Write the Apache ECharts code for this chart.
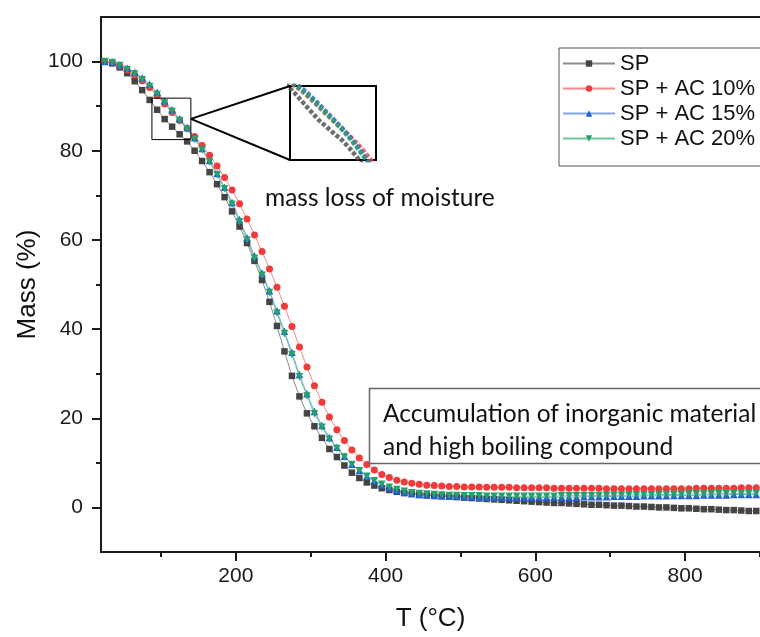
<!DOCTYPE html>
<html>
<head>
<meta charset="utf-8">
<script src="https://cdn.jsdelivr.net/npm/echarts@6/dist/echarts.min.js"></script>
<style>
html,body{margin:0;padding:0;background:#fff;}
#main{width:760px;height:637px;}
</style>
</head>
<body>
<div id="main"></div>
<script>
// temperature (°C) of each sampled point
var temps = [
  25,35,45,55,65,75,85,95,105,115,
  125,135,145,155,165,175,185,195,205,215,
  225,235,245,255,265,275,285,295,305,315,
  325,335,345,355,365,375,385,395,405,415,
  425,435,445,455,465,475,485,495,505,515,
  525,535,545,555,565,575,585,595,605,615,
  625,635,645,655,665,675,685,695,705,715,
  725,735,745,755,765,775,785,795,805,815,
  825,835,845,855,865,875,885,895
];
// mass (%)
var massSP = [
  100.0,99.6,98.7,97.4,95.6,93.6,91.4,89.2,87.1,85.4,
  83.7,82.1,80.0,77.7,75.2,72.5,69.6,66.4,63.0,59.3,
  55.3,51.0,46.1,40.7,35.0,29.5,24.9,21.1,18.2,15.6,
  13.1,11.3,9.4,7.8,6.6,5.6,4.9,4.3,3.9,3.5,
  3.2,3.0,2.8,2.7,2.6,2.5,2.4,2.3,2.2,2.1,
  2.0,1.9,1.8,1.7,1.6,1.5,1.4,1.3,1.2,1.1,
  1.0,1.0,0.9,0.8,0.7,0.6,0.6,0.5,0.4,0.4,
  0.3,0.2,0.2,0.1,0.0,0.0,-0.1,-0.2,-0.2,-0.3,
  -0.4,-0.4,-0.5,-0.6,-0.6,-0.7,-0.8,-0.8
];
var massAC10 = [
  100.0,99.7,99.0,98.1,97.0,95.7,94.2,92.4,90.5,88.6,
  86.8,85.0,83.2,81.2,79.0,76.6,74.0,71.2,68.1,64.7,
  61.1,57.4,53.5,49.4,45.1,40.6,36.0,31.5,27.3,23.6,
  20.3,17.4,15.0,12.9,11.1,9.6,8.4,7.4,6.7,6.1,
  5.7,5.4,5.2,5.0,4.9,4.8,4.7,4.7,4.6,4.6,
  4.6,4.5,4.5,4.5,4.5,4.4,4.4,4.4,4.4,4.4,
  4.3,4.3,4.3,4.3,4.3,4.3,4.3,4.2,4.2,4.2,
  4.2,4.2,4.2,4.2,4.2,4.2,4.2,4.2,4.2,4.3,
  4.3,4.3,4.3,4.3,4.3,4.4,4.4,4.4
];
var massAC15 = [
  100.0,99.9,99.3,98.5,97.6,96.4,94.9,93.1,91.2,89.2,
  87.2,85.2,82.9,80.5,77.8,74.9,71.8,68.4,64.6,60.5,
  56.4,52.6,48.6,44.1,39.5,34.8,29.8,25.5,21.5,18.4,
  15.7,13.5,11.5,9.7,8.3,7.0,6.0,5.1,4.4,3.8,
  3.4,3.1,2.9,2.8,2.7,2.6,2.5,2.5,2.4,2.4,
  2.3,2.3,2.3,2.3,2.2,2.2,2.2,2.2,2.2,2.2,
  2.3,2.3,2.3,2.3,2.4,2.4,2.4,2.4,2.5,2.5,
  2.5,2.5,2.6,2.6,2.6,2.6,2.7,2.7,2.7,2.7,
  2.8,2.8,2.8,2.8,2.9,2.9,2.9,2.9
];
var massAC20 = [
  100.0,99.8,99.1,98.2,97.2,95.9,94.4,92.6,90.7,88.8,
  86.8,84.8,82.6,80.2,77.5,74.6,71.5,68.0,64.1,60.0,
  55.9,52.1,48.2,43.6,39.0,34.3,29.3,25.0,21.0,18.0,
  15.3,13.2,11.3,9.6,8.2,7.0,6.0,5.2,4.5,4.0,
  3.6,3.3,3.1,3.0,2.9,2.8,2.7,2.7,2.6,2.6,
  2.6,2.5,2.5,2.5,2.5,2.5,2.5,2.5,2.5,2.5,
  2.5,2.6,2.6,2.6,2.6,2.6,2.7,2.7,2.7,2.7,
  2.8,2.8,2.8,2.8,2.9,2.9,2.9,2.9,3.0,3.0,
  3.0,3.0,3.1,3.1,3.1,3.1,3.2,3.2
];
var seriesNames = ['SP', 'SP + AC 10%', 'SP + AC 15%', 'SP + AC 20%'];

var xMajorTicks = [200, 400, 600, 800];
var xMinorTicks = [100, 300, 500, 700, 900];
var yMajorTicks = [0, 20, 40, 60, 80, 100];
var yMinorTicks = [10, 30, 50, 70, 90];

// region marked by the small box, and what the inset shows
var boxT = [88, 140], boxM = [82.5, 91.8];
var insetT = [66, 180], insetM = [77, 96];

var FONT = 'Liberation Sans';
var AXIS = '#1a1a1a';

function pairs(ys) {
  var out = [];
  for (var i = 0; i < temps.length; i++) out.push([temps[i], ys[i]]);
  return out;
}

var styles = [
  {data: massSP,   symbol: 'rect',     size: 6.5, mark: '#444444', line: '#8c8c8c', inset: '#555555'},
  {data: massAC10, symbol: 'circle',   size: 7,   mark: '#f23a3a', line: '#f28a8a', inset: '#f04545'},
  {data: massAC15, symbol: 'triangle', size: 7.5, mark: '#1f5fd8', line: '#7fa6ee', inset: '#2a66d8'},
  {data: massAC20, symbol: 'path://M0,0 L10,0 L5,9 Z', size: 7.5, mark: '#26a06c', line: '#6cc79c', inset: '#2aa06e'}
];

var series = [];
styles.forEach(function (s, i) {
  series.push({
    name: seriesNames[i], type: 'line', xAxisIndex: 0, yAxisIndex: 0,
    data: pairs(s.data), symbol: s.symbol, symbolSize: s.size,
    showAllSymbol: true, animation: false,
    itemStyle: {color: s.mark},
    lineStyle: {color: s.line, width: 1}
  });
});
// magnified copy drawn inside the inset frame
styles.forEach(function (s, i) {
  series.push({
    name: seriesNames[i], type: 'line', xAxisIndex: 3, yAxisIndex: 2,
    data: pairs(s.data), showSymbol: false, animation: false, clip: true,
    lineStyle: {color: s.inset, width: 4.5, type: [4, 2], opacity: 0.85}
  });
});

var option = {
  backgroundColor: '#fff',
  animation: false,
  grid: [
    {left: 101, top: 17, right: 0, bottom: 83},
    {left: 290, top: 86, width: 86, height: 74, show: true, borderColor: '#000', borderWidth: 2}
  ],
  legend: {
    data: seriesNames, orient: 'vertical', left: 559, top: 48,
    itemWidth: 52, itemHeight: 8, itemGap: 0, padding: [3, 10, 15, 3],
    borderColor: '#555', borderWidth: 1, backgroundColor: '#fff',
    textStyle: {fontFamily: FONT, fontSize: 22, color: '#111', lineHeight: 25}
  },
  xAxis: [
    {
      type: 'value', gridIndex: 0, position: 'bottom', min: 20, max: 900,
      name: 'T (°C)', nameLocation: 'middle', nameGap: 54,
      nameTextStyle: {fontFamily: FONT, fontSize: 26, color: '#111'},
      axisLine: {onZero: false, lineStyle: {color: AXIS, width: 2}},
      axisTick: {customValues: xMajorTicks, length: 9, lineStyle: {color: AXIS, width: 2}},
      axisLabel: {customValues: xMajorTicks, fontFamily: FONT, fontSize: 21, color: '#1a1a1a', margin: 14},
      splitLine: {show: false}
    },
    {
      type: 'value', gridIndex: 0, position: 'bottom', min: 20, max: 900,
      axisLine: {show: false, onZero: false},
      axisTick: {customValues: xMinorTicks, length: 5, lineStyle: {color: AXIS, width: 2}},
      axisLabel: {show: false}, splitLine: {show: false}
    },
    {
      type: 'value', gridIndex: 0, position: 'top', min: 20, max: 900,
      axisLine: {onZero: false, lineStyle: {color: AXIS, width: 2}},
      axisTick: {show: false}, axisLabel: {show: false}, splitLine: {show: false}
    },
    {
      type: 'value', gridIndex: 1, min: insetT[0], max: insetT[1],
      axisLine: {show: false, onZero: false}, axisTick: {show: false},
      axisLabel: {show: false}, splitLine: {show: false}
    }
  ],
  yAxis: [
    {
      type: 'value', gridIndex: 0, position: 'left', min: -10, max: 110,
      name: 'Mass (%)', nameLocation: 'middle', nameGap: 60, nameMoveOverlap: false,
      nameTextStyle: {fontFamily: FONT, fontSize: 26, color: '#111'},
      axisLine: {onZero: false, lineStyle: {color: AXIS, width: 2}},
      axisTick: {customValues: yMajorTicks, length: 9, lineStyle: {color: AXIS, width: 2}},
      axisLabel: {customValues: yMajorTicks, fontFamily: FONT, fontSize: 21, color: '#1a1a1a', margin: 18},
      splitLine: {show: false}
    },
    {
      type: 'value', gridIndex: 0, position: 'left', min: -10, max: 110,
      axisLine: {show: false, onZero: false},
      axisTick: {customValues: yMinorTicks, length: 5, lineStyle: {color: AXIS, width: 2}},
      axisLabel: {show: false}, splitLine: {show: false}
    },
    {
      type: 'value', gridIndex: 1, min: insetM[0], max: insetM[1],
      axisLine: {show: false, onZero: false}, axisTick: {show: false},
      axisLabel: {show: false}, splitLine: {show: false}
    }
  ],
  series: series
};

var chart = echarts.init(document.getElementById('main'));
chart.setOption(option);

// zoom box + connector lines to the inset
var a = chart.convertToPixel({gridIndex: 0}, [boxT[0], boxM[1]]);
var b = chart.convertToPixel({gridIndex: 0}, [boxT[1], boxM[0]]);
var midY = (a[1] + b[1]) / 2;
var inset = option.grid[1];

chart.setOption({
  graphic: [
    {type: 'rect', z: 10, shape: {x: a[0], y: a[1], width: b[0] - a[0], height: b[1] - a[1]},
     style: {fill: 'none', stroke: '#000', lineWidth: 1}},
    {type: 'line', z: 10, shape: {x1: b[0], y1: midY, x2: inset.left, y2: inset.top},
     style: {stroke: '#000', lineWidth: 2}},
    {type: 'line', z: 10, shape: {x1: b[0], y1: midY, x2: inset.left, y2: inset.top + inset.height},
     style: {stroke: '#000', lineWidth: 2}},
    {type: 'text', z: 10, left: 265, top: 186,
     style: {text: 'mass loss of moisture', fontFamily: 'Lato', fontSize: 24.5, fill: '#111'}},
    {type: 'rect', z: 10, shape: {x: 369.5, y: 388.5, width: 420, height: 75},
     style: {fill: 'none', stroke: '#666', lineWidth: 1.5}},
    {type: 'text', z: 10, left: 383, top: 398,
     style: {text: 'Accumulation of inorganic material\nand high boiling compound',
             fontFamily: 'Lato', fontSize: 24.5, lineHeight: 33, fill: '#111'}}
  ]
});
</script>
</body>
</html>
